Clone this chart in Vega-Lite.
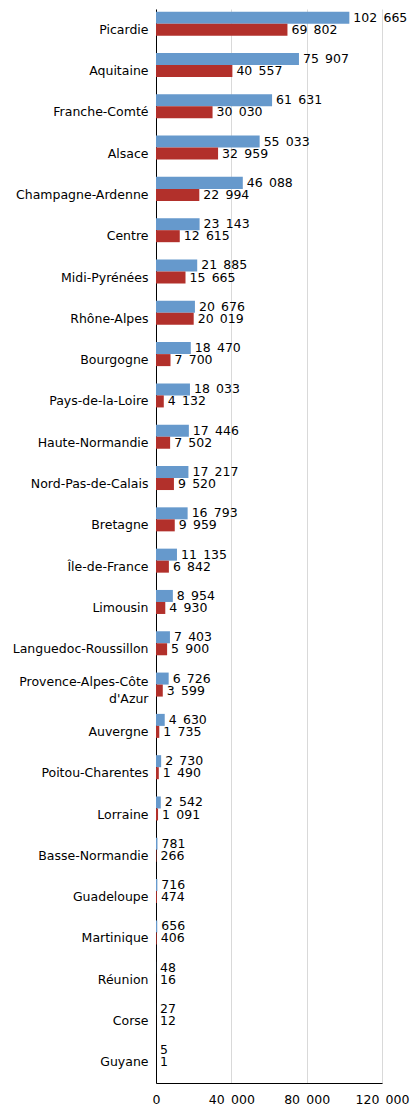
{
  "$schema": "https://vega.github.io/schema/vega-lite/v6.json",
  "width": 226,
  "height": 1074,
  "autosize": {"type": "none"},
  "padding": {"left": 156, "top": 9, "right": 28, "bottom": 23},
  "background": "white",
  "config": {
    "view": {"stroke": null},
    "font": "DejaVu Sans",
    "locale": {"number": {"decimal": ",", "thousands": "\u2002", "grouping": [3], "currency": ["", " €"]}}
  },
  "data": {
    "values": [
      {"region": "Picardie", "serie": "a", "value": 102665},
      {"region": "Picardie", "serie": "b", "value": 69802},
      {"region": "Aquitaine", "serie": "a", "value": 75907},
      {"region": "Aquitaine", "serie": "b", "value": 40557},
      {"region": "Franche-Comté", "serie": "a", "value": 61631},
      {"region": "Franche-Comté", "serie": "b", "value": 30030},
      {"region": "Alsace", "serie": "a", "value": 55033},
      {"region": "Alsace", "serie": "b", "value": 32959},
      {"region": "Champagne-Ardenne", "serie": "a", "value": 46088},
      {"region": "Champagne-Ardenne", "serie": "b", "value": 22994},
      {"region": "Centre", "serie": "a", "value": 23143},
      {"region": "Centre", "serie": "b", "value": 12615},
      {"region": "Midi-Pyrénées", "serie": "a", "value": 21885},
      {"region": "Midi-Pyrénées", "serie": "b", "value": 15665},
      {"region": "Rhône-Alpes", "serie": "a", "value": 20676},
      {"region": "Rhône-Alpes", "serie": "b", "value": 20019},
      {"region": "Bourgogne", "serie": "a", "value": 18470},
      {"region": "Bourgogne", "serie": "b", "value": 7700},
      {"region": "Pays-de-la-Loire", "serie": "a", "value": 18033},
      {"region": "Pays-de-la-Loire", "serie": "b", "value": 4132},
      {"region": "Haute-Normandie", "serie": "a", "value": 17446},
      {"region": "Haute-Normandie", "serie": "b", "value": 7502},
      {"region": "Nord-Pas-de-Calais", "serie": "a", "value": 17217},
      {"region": "Nord-Pas-de-Calais", "serie": "b", "value": 9520},
      {"region": "Bretagne", "serie": "a", "value": 16793},
      {"region": "Bretagne", "serie": "b", "value": 9959},
      {"region": "Île-de-France", "serie": "a", "value": 11135},
      {"region": "Île-de-France", "serie": "b", "value": 6842},
      {"region": "Limousin", "serie": "a", "value": 8954},
      {"region": "Limousin", "serie": "b", "value": 4930},
      {"region": "Languedoc-Roussillon", "serie": "a", "value": 7403},
      {"region": "Languedoc-Roussillon", "serie": "b", "value": 5900},
      {"region": "Provence-Alpes-Côte d'Azur", "serie": "a", "value": 6726},
      {"region": "Provence-Alpes-Côte d'Azur", "serie": "b", "value": 3599},
      {"region": "Auvergne", "serie": "a", "value": 4630},
      {"region": "Auvergne", "serie": "b", "value": 1735},
      {"region": "Poitou-Charentes", "serie": "a", "value": 2730},
      {"region": "Poitou-Charentes", "serie": "b", "value": 1490},
      {"region": "Lorraine", "serie": "a", "value": 2542},
      {"region": "Lorraine", "serie": "b", "value": 1091},
      {"region": "Basse-Normandie", "serie": "a", "value": 781},
      {"region": "Basse-Normandie", "serie": "b", "value": 266},
      {"region": "Guadeloupe", "serie": "a", "value": 716},
      {"region": "Guadeloupe", "serie": "b", "value": 474},
      {"region": "Martinique", "serie": "a", "value": 656},
      {"region": "Martinique", "serie": "b", "value": 406},
      {"region": "Réunion", "serie": "a", "value": 48},
      {"region": "Réunion", "serie": "b", "value": 16},
      {"region": "Corse", "serie": "a", "value": 27},
      {"region": "Corse", "serie": "b", "value": 12},
      {"region": "Guyane", "serie": "a", "value": 5},
      {"region": "Guyane", "serie": "b", "value": 1}
    ]
  },
  "encoding": {
    "y": {
      "field": "region",
      "type": "nominal",
      "sort": null,
      "scale": {"paddingInner": 0.128, "paddingOuter": 0.064},
      "axis": {
        "title": null,
        "ticks": false,
        "domainColor": "#000000",
        "domainWidth": 1,
        "labelPadding": 8,
        "labelFontSize": 12.5,
        "labelColor": "#000000",
        "labelLimit": 0,
        "labelLineHeight": 17,
        "labelOffset": {"condition": {"test": "datum.value == \"Provence-Alpes-Côte d'Azur\"", "value": -8.5}, "value": 0},
        "labelExpr": "datum.value == \"Provence-Alpes-Côte d'Azur\" ? ['Provence-Alpes-Côte', \"d'Azur\"] : datum.value"
      }
    },
    "yOffset": {"field": "serie", "type": "nominal", "scale": {"domain": ["a", "b", "c"], "paddingInner": 0, "paddingOuter": 0}},
    "x": {
      "field": "value",
      "type": "quantitative",
      "scale": {"domain": [0, 120000], "nice": false},
      "axis": {
        "title": null,
        "values": [0, 40000, 80000, 120000],
        "format": ",.0f",
        "ticks": false,
        "grid": true,
        "gridColor": "#d9d9d9",
        "gridWidth": 1,
        "domainColor": "#000000",
        "labelPadding": 10,
        "labelFontSize": 12.5,
        "labelColor": "#000000",
        "labelFlush": false,
        "labelOverlap": false
      }
    }
  },
  "layer": [
    {
      "mark": {"type": "bar"},
      "encoding": {
        "color": {"field": "serie", "type": "nominal", "scale": {"domain": ["a", "b"], "range": ["#6699cc", "#b2302b"]}, "legend": null}
      }
    },
    {
      "mark": {"type": "text", "align": "left", "baseline": "middle", "dx": 4, "fontSize": 12.5, "color": "#000000"},
      "encoding": {"text": {"field": "value", "type": "quantitative", "format": ",.0f"}}
    }
  ]
}
